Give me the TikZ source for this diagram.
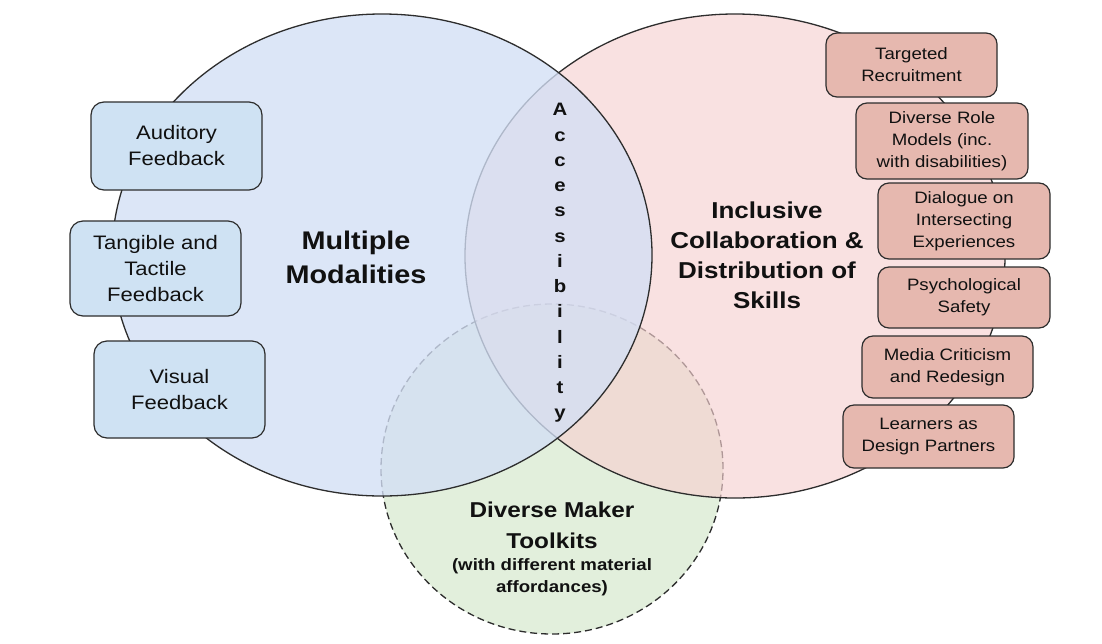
\documentclass[tikz,border=0pt]{standalone}
\usepackage{fontspec}
\setmainfont{Liberation Sans}[FakeStretch=1.13]
\definecolor{gfill}{RGB}{226,239,220}
\definecolor{pfill}{RGB}{246,209,209}
\definecolor{bfill}{RGB}{211,223,245}
\definecolor{boxblue}{RGB}{207,226,243}
\definecolor{boxpink}{RGB}{230,184,175}
\definecolor{outline}{RGB}{45,45,45}
\definecolor{txt}{RGB}{17,17,17}
\tikzset{
  outl/.style={draw=outline, line width=1.3pt},
  bbox/.style={draw=outline, line width=1.2pt, fill=boxblue, rounded corners=13pt,
    minimum width=171pt, inner sep=0pt, align=center, text=txt,
    font=\fontsize{19.5}{26}\selectfont},
  pbox/.style={draw=outline, line width=1.2pt, fill=boxpink, rounded corners=11pt,
    minimum width=171pt, inner sep=0pt, align=center, text=txt,
    font=\fontsize{16.5}{22}\selectfont},
  bigtitle/.style={align=center, text=txt, font=\bfseries\fontsize{25.5}{34}\selectfont},
  midtitle/.style={align=center, text=txt, font=\bfseries\fontsize{23}{30}\selectfont},
  toolkit/.style={align=center, text=txt, font=\bfseries\fontsize{21.5}{31}\selectfont},
  subnote/.style={align=center, text=txt, font=\bfseries\fontsize{16.5}{21.5}\selectfont},
  vertword/.style={align=center, text=txt, inner sep=0pt, font=\bfseries\fontsize{18}{25.25}\selectfont}
}
\begin{document}
\begin{tikzpicture}[x=1pt,y=-1pt]
\useasboundingbox (0,0) rectangle (1102,643);
\fill[white] (0,0) rectangle (1102,643);

% circles
\path[fill=gfill, draw=outline, line width=1.3pt, dash pattern=on 7pt off 4pt]
  (552,469) ellipse [x radius=171pt, y radius=165pt];
\path[fill=pfill, fill opacity=0.65, outl]
  (735,256) ellipse [x radius=270pt, y radius=242pt];
\path[fill=bfill, fill opacity=0.78, outl]
  (382,255) ellipse [x radius=270pt, y radius=241pt];

% titles
\node[bigtitle] (mm) at (356,257) {Multiple\\Modalities};
\node[midtitle] (icd) at (767,255) {Inclusive\\Collaboration \&\\Distribution of\\Skills};
\node[vertword] (acc) at (560,263) {A\\c\\c\\e\\s\\s\\i\\b\\i\\l\\i\\t\\y};
\node[toolkit] (dmt) at (552,525) {Diverse Maker\\Toolkits};
\node[subnote] (wdm) at (552,577) {(with different material\\affordances)};

% blue boxes
\node[bbox, minimum height=88pt] (aud) at (176.5,146) {Auditory\\Feedback};
\node[bbox, minimum height=95pt] (tan) at (155.5,268.5) {Tangible and\\Tactile\\Feedback};
\node[bbox, minimum height=97pt] (vis) at (179.5,389.5) {Visual\\Feedback};

% pink boxes
\node[pbox, minimum height=64pt] (tr) at (911.5,65) {Targeted\\Recruitment};
\node[pbox, minimum width=172pt, minimum height=76pt] (drm) at (942,141) {Diverse Role\\Models (inc.\\with disabilities)};
\node[pbox, minimum width=172pt, minimum height=76pt] (dio) at (964,221) {Dialogue on\\Intersecting\\Experiences};
\node[pbox, minimum width=172pt, minimum height=61pt] (psy) at (964,297.5) {Psychological\\Safety};
\node[pbox, minimum height=62pt] (med) at (947.5,367) {Media Criticism\\and Redesign};
\node[pbox, minimum height=63pt] (lrn) at (928.5,436.5) {Learners as\\Design Partners};
\end{tikzpicture}
\end{document}
